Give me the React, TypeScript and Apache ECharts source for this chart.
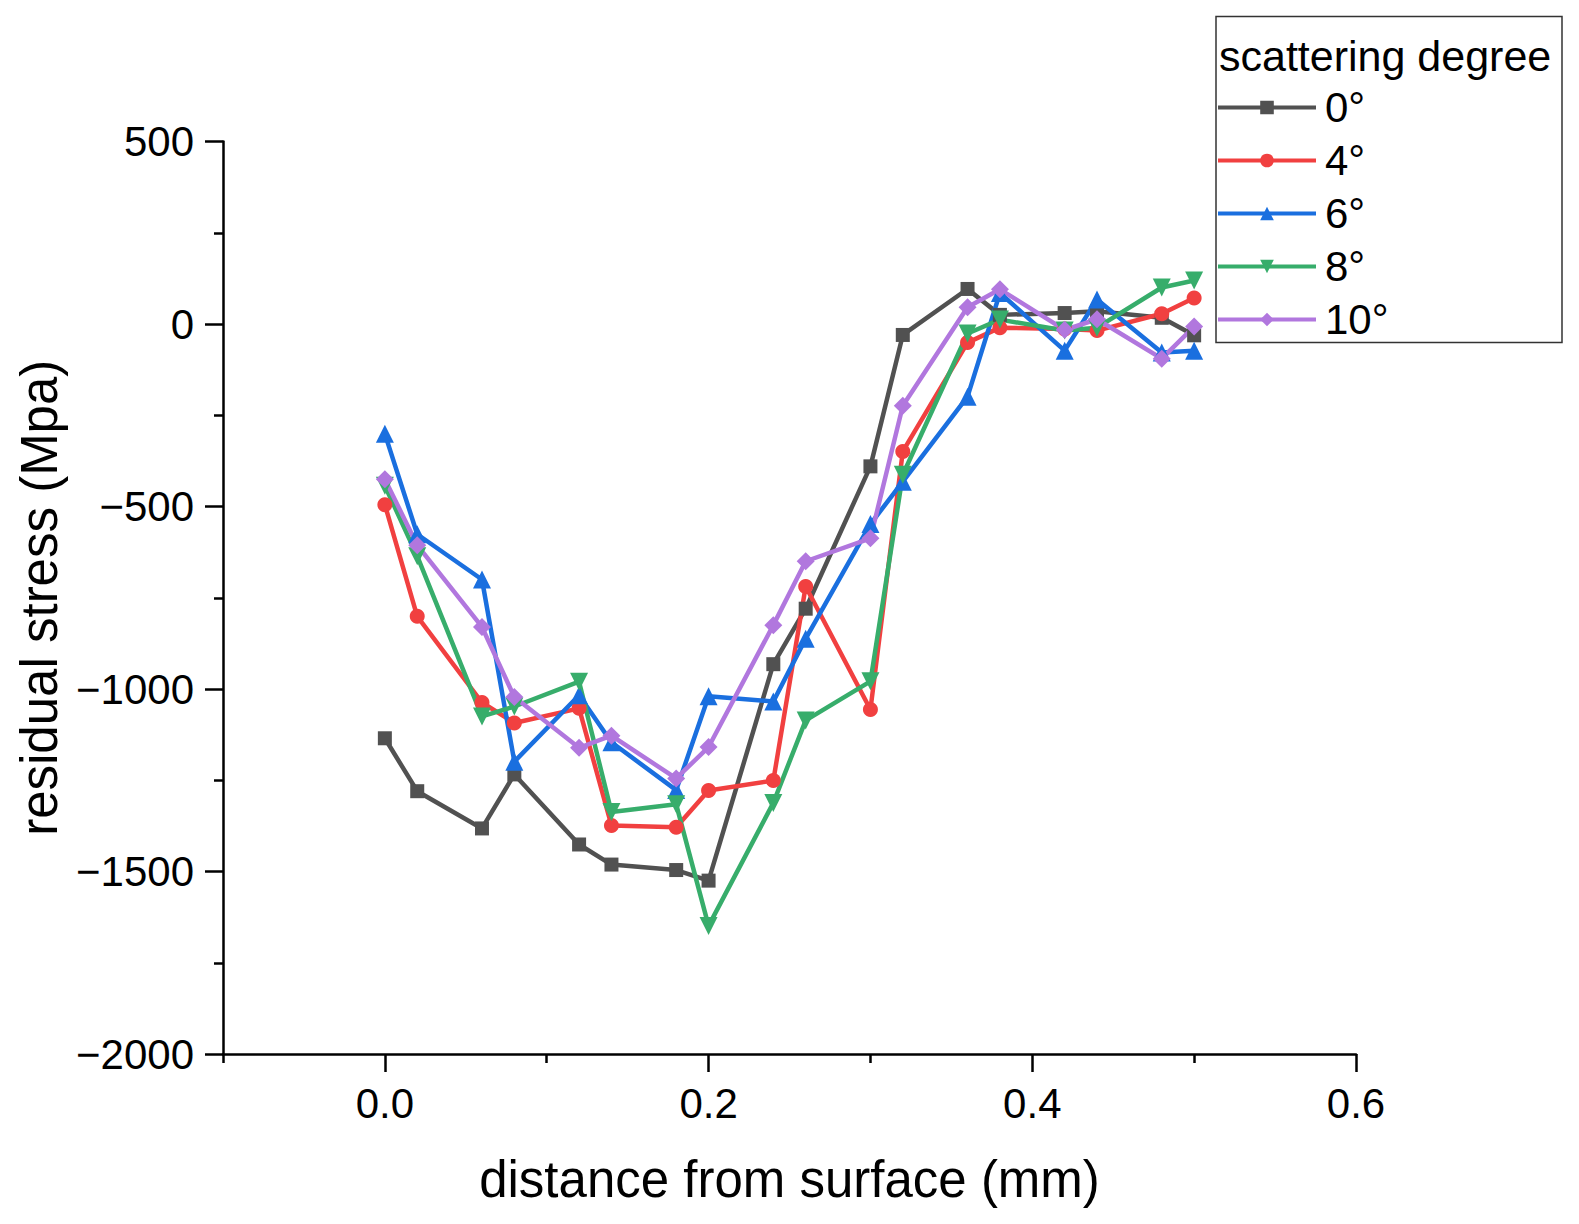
import { useEffect, useRef } from "react";
import * as echarts from "echarts";

const FONT = '"Liberation Sans", Arial, Helvetica, sans-serif';

const DEPTHS = [0, 0.02, 0.06, 0.08, 0.12, 0.14, 0.18, 0.2, 0.24, 0.26, 0.3, 0.32, 0.36, 0.38, 0.42, 0.44, 0.48, 0.5];

const STRESS_0 = [-1135, -1280, -1382, -1234, -1426, -1481, -1496, -1525, -932, -780, -390, -30, 96, 25, 30, 35, 17, -31];
const STRESS_4 = [-495, -801, -1037, -1093, -1053, -1374, -1379, -1278, -1251, -719, -1056, -349, -51, -10, -14, -18, 28, 71];
const STRESS_6 = [-301, -576, -700, -1199, -1017, -1146, -1277, -1020, -1034, -862, -548, -432, -199, 85, -73, 67, -78, -73];
const STRESS_8 = [-443, -636, -1075, -1048, -980, -1337, -1316, -1649, -1312, -1086, -979, -413, -26, 12, -18, -10, 100, 119];
const STRESS_10 = [-425, -606, -830, -1022, -1161, -1128, -1245, -1159, -825, -650, -587, -224, 46, 95, -16, 13, -95, -7];

const SERIES_NAMES = ["0°", "4°", "6°", "8°", "10°"];
const X_MAJOR = [0, 0.2, 0.4, 0.6];
const X_MINOR = [-0.1, 0.1, 0.3, 0.5];

const LINES = [
  { values: STRESS_0, color: "#515151", symbol: "rect", size: 14, rotate: 0 },
  { values: STRESS_4, color: "#F14040", symbol: "circle", size: 15, rotate: 0 },
  { values: STRESS_6, color: "#1A6FDF", symbol: "triangle", size: 18, rotate: 0 },
  { values: STRESS_8, color: "#37AD6B", symbol: "triangle", size: 18, rotate: 180 },
  { values: STRESS_10, color: "#B177DE", symbol: "diamond", size: 18, rotate: 0 }
];

const axisLineStyle = { color: "#000", width: 2.5 };

function buildOption() {
  return {
    animation: false,
    backgroundColor: "#fff",
    textStyle: { fontFamily: FONT, color: "#000" },
    grid: { left: 223, right: 223, top: 141.5, bottom: 170, containLabel: false },
    xAxis: [
      {
        type: "value",
        min: -0.1,
        max: 0.6,
        interval: 0.1,
        position: "bottom",
        axisLine: { show: true, onZero: false, lineStyle: axisLineStyle },
        axisTick: { show: true, customValues: X_MAJOR, length: 18, lineStyle: axisLineStyle },
        axisLabel: {
          customValues: X_MAJOR,
          formatter: (v: number) => v.toFixed(1),
          fontSize: 42,
          color: "#000",
          margin: 28,
          fontFamily: FONT
        },
        splitLine: { show: false },
        name: "distance from surface (mm)",
        nameLocation: "middle",
        nameGap: 100,
        nameTextStyle: { fontSize: 51, color: "#000", fontFamily: FONT }
      },
      {
        type: "value",
        min: -0.1,
        max: 0.6,
        interval: 0.1,
        position: "bottom",
        axisLine: { show: false, onZero: false },
        axisTick: { show: true, customValues: X_MINOR, length: 9, lineStyle: axisLineStyle },
        axisLabel: { show: false },
        splitLine: { show: false }
      }
    ],
    yAxis: {
      type: "value",
      min: -2000,
      max: 500,
      interval: 500,
      axisLine: { show: true, onZero: false, lineStyle: axisLineStyle },
      axisTick: { show: true, length: 18, lineStyle: axisLineStyle },
      minorTick: { show: true, splitNumber: 2, length: 9, lineStyle: axisLineStyle },
      axisLabel: {
        formatter: (v: number) => String(v).replace("-", "\u2212"),
        fontSize: 42,
        color: "#000",
        margin: 29,
        fontFamily: FONT
      },
      splitLine: { show: false },
      minorSplitLine: { show: false },
      name: "residual stress (Mpa)",
      nameLocation: "middle",
      nameGap: 147,
      nameTextStyle: { fontSize: 51, color: "#000", fontFamily: FONT }
    },
    legend: {
      orient: "vertical",
      left: 1216,
      top: 81,
      itemWidth: 98,
      itemHeight: 17,
      itemGap: 0,
      padding: 0,
      data: SERIES_NAMES,
      lineStyle: { width: 4 },
      textStyle: { fontSize: 42, lineHeight: 53, color: "#000", fontFamily: FONT, padding: [0, 0, 0, 4] }
    },
    graphic: [
      {
        type: "rect",
        z: 1,
        shape: { x: 1216, y: 16.5, width: 346, height: 326 },
        style: { fill: "#fff", stroke: "#333", lineWidth: 1.5 }
      },
      {
        type: "text",
        z: 5,
        x: 1219,
        y: 56,
        style: {
          text: "scattering degree",
          fontSize: 43,
          fontFamily: FONT,
          fill: "#000",
          align: "left",
          verticalAlign: "middle"
        }
      }
    ],
    series: LINES.map((line, i) => ({
      name: SERIES_NAMES[i],
      type: "line",
      xAxisIndex: 0,
      data: DEPTHS.map((d, j) => [d, line.values[j]]),
      symbol: line.symbol,
      symbolSize: line.size,
      symbolRotate: line.rotate,
      showAllSymbol: true,
      lineStyle: { color: line.color, width: 4.5 },
      itemStyle: { color: line.color, borderWidth: 0 },
      emphasis: { disabled: true }
    }))
  };
}

export default function App() {
  const hostRef = useRef<HTMLDivElement>(null);

  useEffect(() => {
    const host = hostRef.current;
    if (host === null) return;
    const chart = echarts.init(host, undefined, { renderer: "svg" });
    chart.setOption(buildOption());
    return () => chart.dispose();
  }, []);

  return (
    <div
      ref={hostRef}
      style={{ position: "absolute", left: 0, top: 0, width: 1579, height: 1224, background: "#fff" }}
    />
  );
}
